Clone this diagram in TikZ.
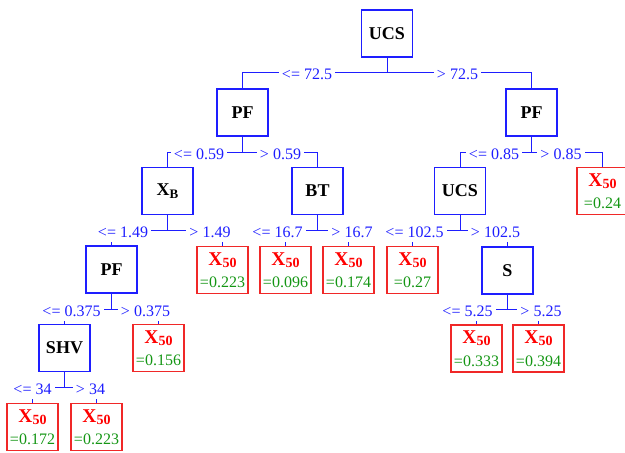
\documentclass[tikz,border=0pt]{standalone}
\usepackage{fontspec}
\setmainfont{Liberation Serif}
\definecolor{lineblue}{RGB}{30,30,255}
\definecolor{boxred}{RGB}{240,40,40}
\definecolor{valgreen}{RGB}{20,150,20}
\tikzset{
 inner/.style={draw=lineblue, line width=1.1pt, minimum width=51pt, minimum height=47pt, inner sep=0pt, font=\fontsize{18}{18}\selectfont\bfseries},
 leaf/.style={draw=boxred, line width=1.1pt, minimum width=51pt, minimum height=47pt, inner sep=0pt, align=center, font=\fontsize{16}{22}\selectfont},
 edge/.style={draw=lineblue, line width=1pt},
 split/.style={fill=white, text=lineblue, anchor=base, inner xsep=3pt, inner ysep=2.5pt, text depth=2pt, font=\fontsize{16}{16}\selectfont},
}
\newcommand{\leaftext}[1]{{\color{red}\fontsize{19.5}{22}\selectfont\bfseries X\raisebox{-2pt}{\fontsize{14}{14}\selectfont 50}}\\[0.5pt]{\color{valgreen}=#1}}
\begin{document}
\begin{tikzpicture}[x=1pt,y=-1pt]
\useasboundingbox (0,0) rectangle (625,453);
% inner nodes
\node[inner] (n1) at (387,33.5) {UCS};
\node[inner] (n2) at (242.5,112.5) {PF};
\node[inner] (n3) at (531.5,112.5) {PF};
\node[inner] (n4) at (167.5,191) {X\raisebox{-3pt}{\fontsize{13}{13}\selectfont B}};
\node[inner] (n5) at (317.5,191) {BT};
\node[inner] (n6) at (460,191) {UCS};
\node[inner] (n7) at (111.5,269.5) {PF};
\node[inner] (n8) at (507.5,270.5) {S};
\node[inner] (n9) at (64.5,348) {SHV};
% leaves
\node[leaf] (l1) at (222.5,270) {\leaftext{0.223}};
\node[leaf] (l2) at (285.5,270) {\leaftext{0.096}};
\node[leaf] (l3) at (348.5,270) {\leaftext{0.174}};
\node[leaf] (l4) at (412.5,270) {\leaftext{0.27}};
\node[leaf] (l5) at (602.5,191) {\leaftext{0.24}};
\node[leaf] (l6) at (158.5,348) {\leaftext{0.156}};
\node[leaf] (l7) at (476.5,348.5) {\leaftext{0.333}};
\node[leaf] (l8) at (538.5,348.5) {\leaftext{0.394}};
\node[leaf] (l9) at (32.5,427) {\leaftext{0.172}};
\node[leaf] (l10) at (96.5,427) {\leaftext{0.223}};
% split points
\coordinate (s1) at (387,72.5);
\coordinate (s2) at (242.5,152.5);
\coordinate (s3) at (531.5,152.5);
\coordinate (s4) at (167.5,230);
\coordinate (s5) at (317.5,230);
\coordinate (s6) at (460,230);
\coordinate (s7) at (111.5,309);
\coordinate (s8) at (507.5,309);
\coordinate (s9) at (64.5,387.5);
% edges
\draw[edge] (n1.south) -- (s1); \draw[edge] (s1) -| (n2.north); \draw[edge] (s1) -| (n3.north);
\draw[edge] (n2.south) -- (s2); \draw[edge] (s2) -| (n4.north); \draw[edge] (s2) -| (n5.north);
\draw[edge] (n3.south) -- (s3); \draw[edge] (s3) -| (n6.north); \draw[edge] (s3) -| (l5.north);
\draw[edge] (n4.south) -- (s4); \draw[edge] (s4) -| (n7.north); \draw[edge] (s4) -| (l1.north);
\draw[edge] (n5.south) -- (s5); \draw[edge] (s5) -| (l2.north); \draw[edge] (s5) -| (l3.north);
\draw[edge] (n6.south) -- (s6); \draw[edge] (s6) -| (l4.north); \draw[edge] (s6) -| (n8.north);
\draw[edge] (n7.south) -- (s7); \draw[edge] (s7) -| (n9.north); \draw[edge] (s7) -| (l6.north);
\draw[edge] (n8.south) -- (s8); \draw[edge] (s8) -| (l7.north); \draw[edge] (s8) -| (l8.north);
\draw[edge] (n9.south) -- (s9); \draw[edge] (s9) -| (l9.north); \draw[edge] (s9) -| (l10.north);
% split labels
\node[split] (t1a) at (307,79.5) {<= 72.5};
\node[split] (t1b) at (457.5,79.5) {> 72.5};
\node[split] (t2a) at (199,159.5) {<= 0.59};
\node[split] (t2b) at (280.5,159.5) {> 0.59};
\node[split] (t3a) at (494,159.5) {<= 0.85};
\node[split] (t3b) at (561,159.5) {> 0.85};
\node[split] (t4a) at (123,237) {<= 1.49};
\node[split] (t4b) at (210,237) {> 1.49};
\node[split] (t5a) at (277.5,237) {<= 16.7};
\node[split] (t5b) at (352,237) {> 16.7};
\node[split] (t6a) at (414.5,237) {<= 102.5};
\node[split] (t6b) at (495.5,237) {> 102.5};
\node[split] (t7a) at (71.5,316) {<= 0.375};
\node[split] (t7b) at (145.5,316) {> 0.375};
\node[split] (t8a) at (467.5,316) {<= 5.25};
\node[split] (t8b) at (541,316) {> 5.25};
\node[split] (t9a) at (32.5,394.5) {<= 34};
\node[split] (t9b) at (90.5,394.5) {> 34};
\end{tikzpicture}
\end{document}
